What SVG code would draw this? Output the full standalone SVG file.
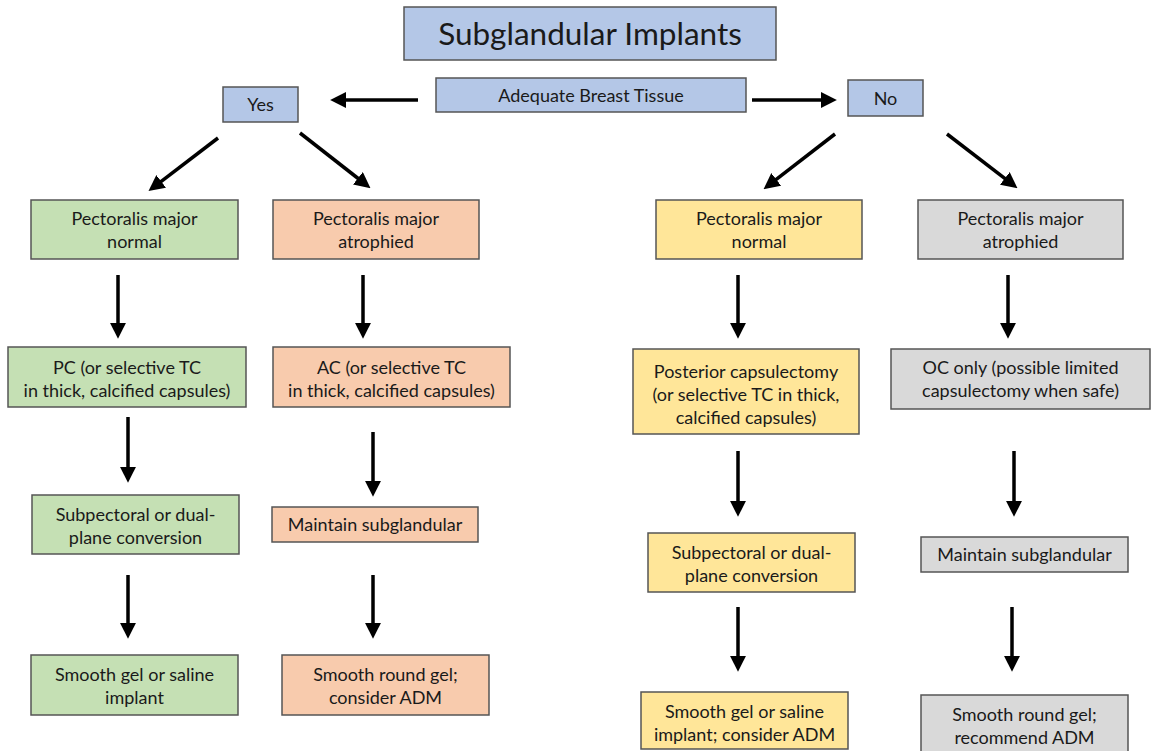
<svg xmlns="http://www.w3.org/2000/svg" width="1152" height="751" viewBox="0 0 1152 751">
<style>
rect{stroke:#555;stroke-width:1.5}
.b{fill:#B4C7E7}.g{fill:#C5E0B4}.o{fill:#F8CBAD}.y{fill:#FFE699}.s{fill:#D9D9D9}
text{font-family:Lato,"Open Sans","Liberation Sans",sans-serif;font-size:18px;fill:#1a1a1a;text-anchor:middle}
.t{font-size:31.5px}
#connectors line{stroke:#000;stroke-width:3.5;marker-end:url(#ah)}
</style>
<defs>
<marker id="ah" markerUnits="userSpaceOnUse" markerWidth="16" markerHeight="16" refX="1" refY="7" orient="auto" viewBox="0 0 14 14">
<path d="M0,0 L14,7 L0,14 z" fill="#000"/>
</marker>
</defs>
<rect width="1152" height="751" fill="#fff" style="stroke:none"/>
<g id="title"><rect class="b" x="404" y="7" width="372" height="53"/><text class="t" x="590" y="45">Subglandular Implants</text></g>
<g id="adequate"><rect class="b" x="436" y="78" width="310" height="34"/><text x="591" y="102">Adequate Breast Tissue</text></g>
<g id="yes"><rect class="b" x="223" y="87" width="75" height="35"/><text x="260.5" y="111">Yes</text></g>
<g id="no"><rect class="b" x="848" y="80" width="75" height="36"/><text x="885.5" y="105">No</text></g>

<g id="g1"><rect class="g" x="31" y="200" width="207" height="59"/><text x="134.5" y="225">Pectoralis major</text><text x="134.5" y="248">normal</text></g>
<g id="o1"><rect class="o" x="273" y="200" width="206" height="59"/><text x="376" y="225">Pectoralis major</text><text x="376" y="248">atrophied</text></g>
<g id="y1"><rect class="y" x="656" y="200" width="206" height="59"/><text x="759" y="225">Pectoralis major</text><text x="759" y="248">normal</text></g>
<g id="s1"><rect class="s" x="918" y="200" width="205" height="59"/><text x="1020.5" y="225">Pectoralis major</text><text x="1020.5" y="248">atrophied</text></g>

<g id="g2"><rect class="g" x="8" y="347" width="238" height="60"/><text x="127" y="374">PC (or selective TC</text><text x="127" y="397">in thick, calcified capsules)</text></g>
<g id="o2"><rect class="o" x="273" y="347" width="237" height="60"/><text x="391.5" y="374">AC (or selective TC</text><text x="391.5" y="397">in thick, calcified capsules)</text></g>
<g id="y2"><rect class="y" x="633" y="349" width="226" height="85"/><text x="746" y="378">Posterior capsulectomy</text><text x="746" y="401">(or selective TC in thick,</text><text x="746" y="424">calcified capsules)</text></g>
<g id="s2"><rect class="s" x="891" y="349" width="259" height="60"/><text x="1020.5" y="374">OC only (possible limited</text><text x="1020.5" y="397">capsulectomy when safe)</text></g>

<g id="g3"><rect class="g" x="32" y="495" width="207" height="59"/><text x="135.5" y="521">Subpectoral or dual-</text><text x="135.5" y="544">plane conversion</text></g>
<g id="o3"><rect class="o" x="272" y="507" width="206" height="35"/><text x="375" y="531">Maintain subglandular</text></g>
<g id="y3"><rect class="y" x="648" y="533" width="207" height="59"/><text x="751.5" y="559">Subpectoral or dual-</text><text x="751.5" y="582">plane conversion</text></g>
<g id="s3"><rect class="s" x="921" y="537" width="207" height="35"/><text x="1024.5" y="561">Maintain subglandular</text></g>

<g id="g4"><rect class="g" x="31" y="655" width="207" height="60"/><text x="134.5" y="681">Smooth gel or saline</text><text x="134.5" y="704">implant</text></g>
<g id="o4"><rect class="o" x="282" y="655" width="207" height="60"/><text x="385.5" y="681">Smooth round gel;</text><text x="385.5" y="704">consider ADM</text></g>
<g id="y4"><rect class="y" x="641" y="692" width="207" height="57"/><text x="744.5" y="718">Smooth gel or saline</text><text x="744.5" y="741">implant; consider ADM</text></g>
<g id="s4"><rect class="s" x="921" y="695" width="207" height="65"/><text x="1024.5" y="721">Smooth round gel;</text><text x="1024.5" y="744">recommend ADM</text></g>

<g id="connectors">
<line x1="418" y1="100" x2="345" y2="100"/>
<line x1="752" y1="100" x2="822" y2="100"/>
<line x1="218" y1="138" x2="160.3" y2="182.1"/>
<line x1="300" y1="133" x2="358.8" y2="179"/>
<line x1="835" y1="134" x2="775.3" y2="180.1"/>
<line x1="947" y1="134" x2="1005.7" y2="179.1"/>
<line x1="118" y1="275" x2="118" y2="324"/>
<line x1="363" y1="275" x2="363" y2="324"/>
<line x1="738" y1="275" x2="738" y2="324"/>
<line x1="1008" y1="275" x2="1008" y2="324"/>
<line x1="128" y1="417" x2="128" y2="468"/>
<line x1="373" y1="432" x2="373" y2="482"/>
<line x1="738" y1="451" x2="738" y2="502"/>
<line x1="1014" y1="451" x2="1014" y2="502"/>
<line x1="128" y1="575" x2="128" y2="624"/>
<line x1="373" y1="575" x2="373" y2="624"/>
<line x1="738" y1="607" x2="738" y2="657"/>
<line x1="1012" y1="607" x2="1012" y2="657"/>
</g>
</svg>
